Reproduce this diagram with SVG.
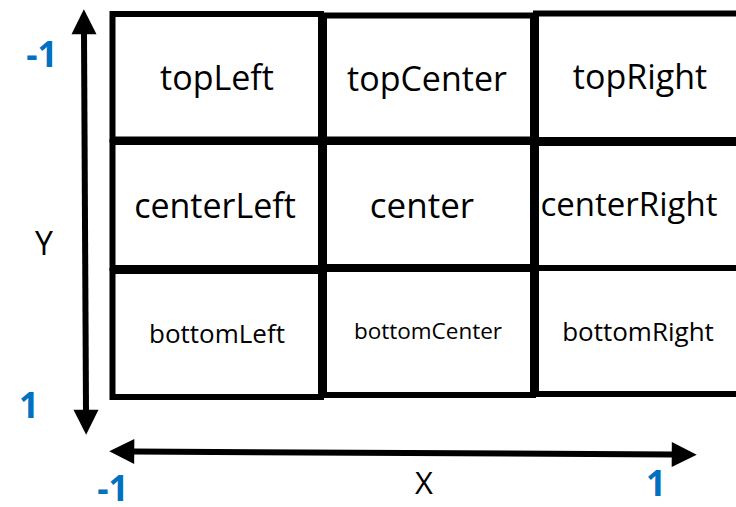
<svg xmlns="http://www.w3.org/2000/svg" width="736" height="507" viewBox="0 0 736 507">
  <style>
    .cell { fill: #ffffff; stroke: #000000; stroke-width: 6; }
    .label { font-family: "Open Sans", "Noto Sans", sans-serif; fill: #000000; text-anchor: middle; }
    .axis { font-family: "Open Sans", "Noto Sans", sans-serif; fill: #000000; text-anchor: middle; }
    .tick { font-family: "Open Sans", "Noto Sans", sans-serif; font-weight: 700; fill: #0070C0; text-anchor: middle; font-size: 35px; }
    .arrow { fill: none; stroke: #000000; stroke-width: 6; }
  </style>
  <defs>
    <marker id="head" markerUnits="userSpaceOnUse" orient="auto-start-reverse" refX="0" refY="0" markerWidth="30" markerHeight="30" viewBox="-2 -11 24 22" overflow="visible">
      <path d="M-1,-10 L19,0 L-1,10 Z" fill="#000000"/>
    </marker>
  </defs>

  <rect width="736" height="507" fill="#ffffff"/>

  <!-- grid of anchor cells -->
  <g id="topLeft">
    <rect class="cell" x="112.5" y="14" width="208.5" height="125.5"/>
    <text class="label" x="217" y="90" font-size="34">topLeft</text>
  </g>
  <g id="topCenter">
    <rect class="cell" x="324" y="15.5" width="209" height="124"/>
    <text class="label" x="427" y="91" font-size="34">topCenter</text>
  </g>
  <g id="topRight">
    <rect class="cell" x="536" y="13.5" width="209" height="126.5"/>
    <text class="label" x="640" y="89" font-size="34">topRight</text>
  </g>

  <g id="centerLeft">
    <rect class="cell" x="112.5" y="142" width="208.5" height="126"/>
    <text class="label" x="215" y="218" font-size="34">centerLeft</text>
  </g>
  <g id="center">
    <rect class="cell" x="324" y="142" width="209" height="125"/>
    <text class="label" x="422" y="218" font-size="35">center</text>
  </g>
  <g id="centerRight">
    <rect class="cell" x="536" y="143" width="209" height="125"/>
    <text class="label" x="629" y="216" font-size="33">centerRight</text>
  </g>

  <g id="bottomLeft">
    <rect class="cell" x="112.5" y="271" width="208.5" height="126"/>
    <text class="label" x="217" y="343" font-size="26">bottomLeft</text>
  </g>
  <g id="bottomCenter">
    <rect class="cell" x="324" y="269" width="209" height="126"/>
    <text class="label" x="428" y="339" font-size="22.5">bottomCenter</text>
  </g>
  <g id="bottomRight">
    <rect class="cell" x="536" y="268" width="209" height="126"/>
    <text class="label" x="638" y="341" font-size="26">bottomRight</text>
  </g>

  <!-- axes -->
  <g id="connectors">
    <path class="arrow" d="M84,33 L86,411" marker-start="url(#head)" marker-end="url(#head)"/>
    <path class="arrow" d="M133,451.5 L673,454.5" marker-start="url(#head)" marker-end="url(#head)"/>
  </g>

  <g id="axis-labels">
    <text class="axis" x="44" y="255" font-size="32">Y</text>
    <text class="axis" x="424" y="494" font-size="31">X</text>
    <text class="tick" x="42" y="67">-1</text>
    <text class="tick" x="29" y="418">1</text>
    <text class="tick" x="113" y="501">-1</text>
    <text class="tick" x="656" y="496">1</text>
  </g>
</svg>
